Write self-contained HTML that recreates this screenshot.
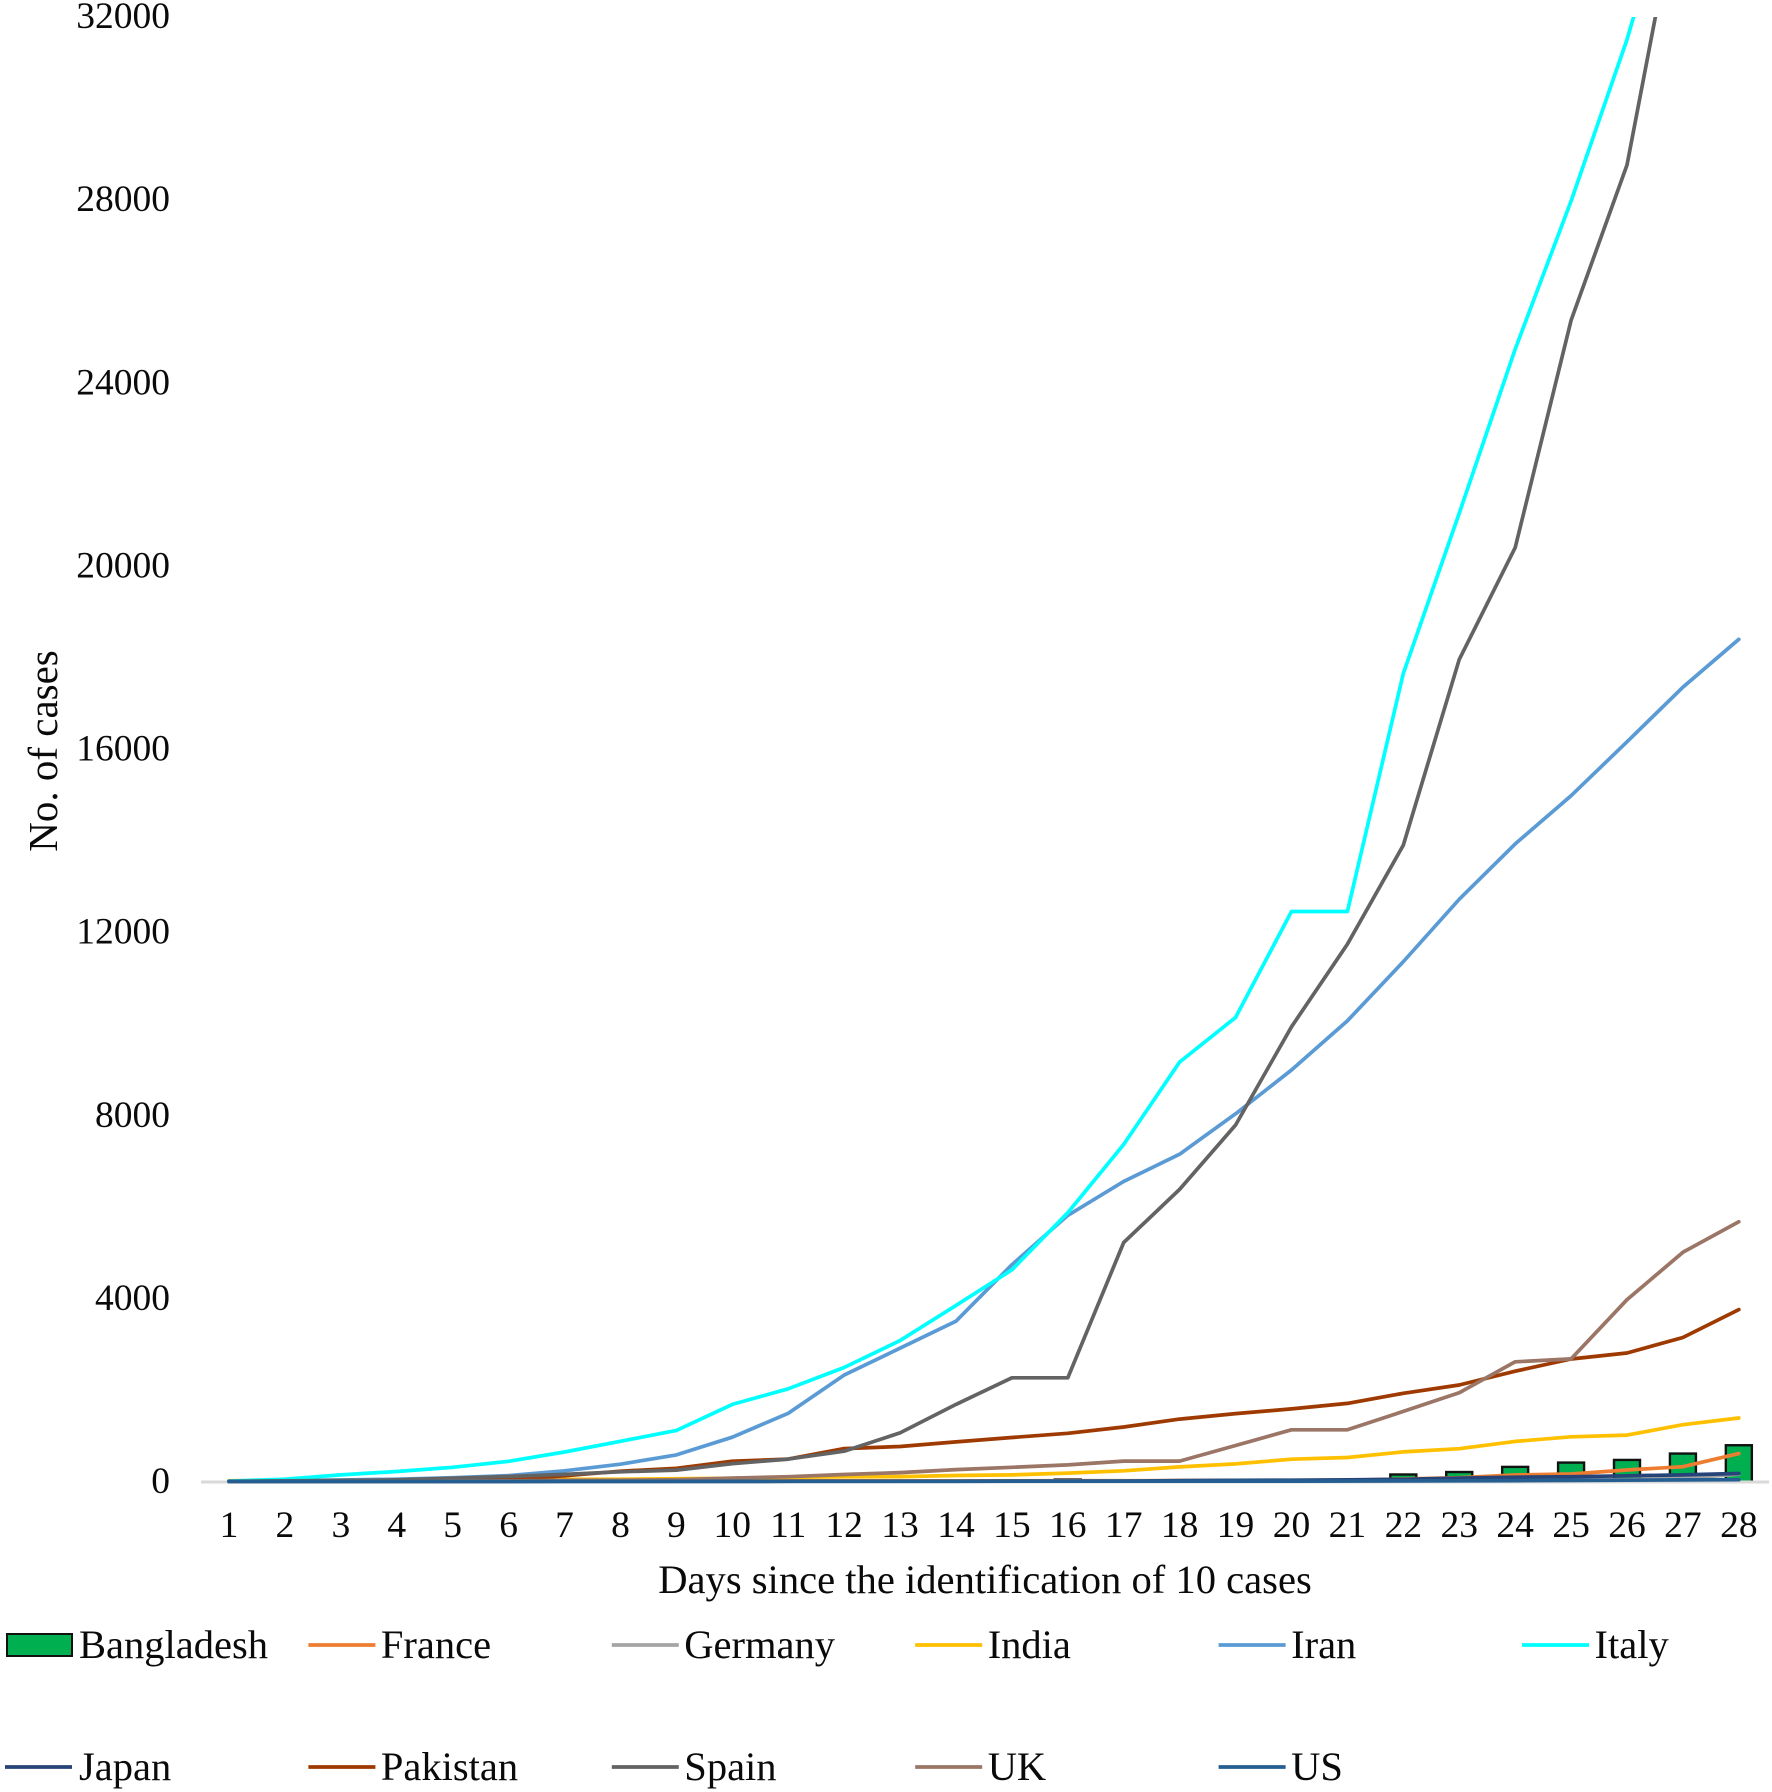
<!DOCTYPE html>
<html lang="en">
<head>
<meta charset="utf-8">
<title>COVID-19 cases since the identification of 10 cases</title>
<style>
html,body{margin:0;padding:0;background:#fff}
#stage{display:block;width:1772px;height:1792px}
text{font-family:"Liberation Serif","Times New Roman",serif;fill:#0a0a0a}
</style>
</head>
<body>
<svg id="stage" xmlns="http://www.w3.org/2000/svg" width="1772" height="1792" viewBox="0 0 1772 1792">
  <defs><clipPath id="plot-clip"><rect x="190" y="17" width="1582" height="1475"></rect></clipPath></defs>
  <g id="bars"></g>
  <line x1="201" y1="1482" x2="1769" y2="1482" stroke="#d9d9d9" stroke-width="3"></line>
  <g id="lines" clip-path="url(#plot-clip)"></g>
  <g id="yticks"></g>
  <g id="xticks"></g>
  <text x="985" y="1593" font-size="40.6" text-anchor="middle">Days since the identification of 10 cases</text>
  <text transform="translate(57 751) rotate(-90)" font-size="41" text-anchor="middle">No. of cases</text>
  <g id="legend"></g>
</svg>
<script>
const days = [1,2,3,4,5,6,7,8,9,10,11,12,13,14,15,16,17,18,19,20,21,22,23,24,25,26,27,28];
const yTickLabels = [0,4000,8000,12000,16000,20000,24000,28000,32000];
const bangladesh = [3,3,3,3,4,5,5,5,6,6,8,8,8,10,10,54,30,30,35,40,45,164,218,330,424,482,621,803];
const france = [12,14,15,16,17,18,19,20,21,22,23,24,25,26,27,28,29,30,32,35,40,65,95,153,175,262,335,620];
const germany = [10,11,12,12,13,13,14,14,15,15,16,16,17,17,18,18,19,19,20,22,24,26,28,32,45,50,80,170];
const india = [28,30,31,34,39,43,56,62,73,82,102,113,119,142,156,194,244,330,396,499,536,657,727,887,987,1024,1251,1397];
const iran = [18,28,43,61,95,139,245,388,593,978,1501,2336,2922,3513,4747,5823,6566,7161,8042,9000,10075,11364,12729,13938,14991,16169,17361,18407];
const italy = [20,62,155,229,322,453,655,888,1128,1694,2036,2502,3089,3858,4636,5883,7375,9172,10149,12462,12462,17660,21157,24747,27980,31506,35713,41035];
const japan = [12,12,13,13,14,14,15,15,16,16,17,17,18,18,19,19,20,30,35,40,45,60,85,105,115,135,155,185];
const pakistan = [16,19,20,21,28,53,136,236,299,454,501,730,776,875,972,1063,1201,1373,1495,1597,1717,1938,2118,2421,2686,2818,3157,3766];
const spain = [13,25,32,45,84,120,165,222,259,400,500,673,1073,1695,2277,2277,5232,6391,7798,9942,11748,13910,17963,20410,25374,28768,35136,39885];
const uk = [9,10,13,13,19,23,35,40,51,85,115,163,206,271,321,373,456,456,798,1140,1140,1543,1950,2626,2689,3983,5018,5683];
const us = [10,11,11,11,12,12,13,13,14,14,15,15,16,16,17,17,18,18,19,20,22,24,26,30,35,40,45,50];

const seriesNames = ['France','Germany','India','Iran','Italy','Japan','Pakistan','Spain','UK','US'];
const seriesValues = [france,germany,india,iran,italy,japan,pakistan,spain,uk,us];
const seriesColors = ['#ed7d31','#a5a5a5','#ffc000','#5b9bd5','#00ffff','#264478','#9e3a00','#636363','#9b7565','#255e91'];

const NS = 'http://www.w3.org/2000/svg';
function xScale(day){ return 229 + (day - 1) * 55.92; }
function yScale(v){ return 1482 - v * (1465 / 32000); }
function make(tag, parent){
  const el = document.createElementNS(NS, tag);
  parent.appendChild(el);
  return el;
}

const barsGroup = document.getElementById('bars');
const BAR_W = 26;
bangladesh.forEach(function(v, i){
  const r = make('rect', barsGroup);
  
  
  r.setAttribute('x', xScale(days[i]) - BAR_W / 2);
  r.setAttribute('y', yScale(v));
  r.setAttribute('width', BAR_W);
  r.setAttribute('height', yScale(0) - yScale(v));
  r.setAttribute('fill', '#00b050');
  r.setAttribute('stroke', '#111');
  r.setAttribute('stroke-width', '2.4');
});

const linesGroup = document.getElementById('lines');
seriesValues.forEach(function(vals, s){
  const p = make('polyline', linesGroup);
  
  
  p.setAttribute('points', vals.map(function(v, i){ return xScale(days[i]).toFixed(1) + ',' + yScale(v).toFixed(1); }).join(' '));
  p.setAttribute('fill', 'none');
  p.setAttribute('stroke', seriesColors[s]);
  p.setAttribute('stroke-width', '3.7');
  p.setAttribute('stroke-linejoin', 'round');
  p.setAttribute('stroke-linecap', 'round');
});

const yGroup = document.getElementById('yticks');
yTickLabels.forEach(function(v){
  const t = make('text', yGroup);
  
  
  t.setAttribute('x', 170);
  t.setAttribute('y', yScale(v) + 11);
  t.setAttribute('font-size', '37.5');
  t.setAttribute('text-anchor', 'end');
  t.textContent = v;
});

const xGroup = document.getElementById('xticks');
days.forEach(function(d){
  const t = make('text', xGroup);
  
  
  t.setAttribute('x', xScale(d));
  t.setAttribute('y', 1537);
  t.setAttribute('font-size', '37.5');
  t.setAttribute('text-anchor', 'middle');
  t.textContent = d;
});

const legendGroup = document.getElementById('legend');
const legendNames = ['Bangladesh'].concat(seriesNames);
const legendColors = ['#00b050'].concat(seriesColors);
legendNames.forEach(function(name, i){
  const col = i % 6;
  const row = i < 6 ? 0 : 1;
  const cy = row === 0 ? 1645 : 1767;
  const x0 = 5 + col * 303.4;
  const g = make('g', legendGroup);
  
  
  if (i === 0) {
    const sw = make('rect', g);
    
    
    sw.setAttribute('x', x0 + 2);
    sw.setAttribute('y', cy - 11);
    sw.setAttribute('width', 65);
    sw.setAttribute('height', 22);
    sw.setAttribute('fill', legendColors[i]);
    sw.setAttribute('stroke', '#111');
    sw.setAttribute('stroke-width', '2');
  } else {
    const ln = make('line', g);
    
    
    ln.setAttribute('x1', x0);
    ln.setAttribute('x2', x0 + 67);
    ln.setAttribute('y1', cy);
    ln.setAttribute('y2', cy);
    ln.setAttribute('stroke', legendColors[i]);
    ln.setAttribute('stroke-width', '3.7');
  }
  const t = make('text', g);
  
  
  t.setAttribute('x', x0 + (col === 0 ? 74 : 72.5));
  t.setAttribute('y', cy + 13);
  t.setAttribute('font-size', '40.5');
  t.textContent = name;
});
</script>
</body>
</html>
